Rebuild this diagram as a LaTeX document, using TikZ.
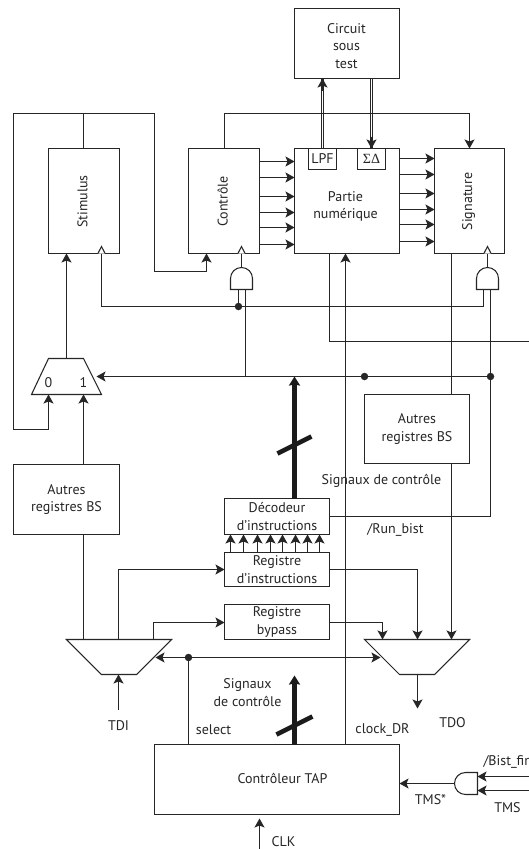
\documentclass[tikz,border=0pt]{standalone}
\usepackage{fontspec}
\setmainfont{PT Sans}
\newfontfamily\grk{Liberation Serif}
\usetikzlibrary{arrows.meta,calc}
\definecolor{ink}{gray}{0.15}
\tikzset{
  x=1pt,y=-1pt,
  wire/.style={draw=ink,line width=1.05pt},
  ar/.style={wire,-{Stealth[length=9pt,width=10pt,inset=2pt]}},
  dar/.style={wire,{Stealth[length=9pt,width=10pt,inset=2pt]}-{Stealth[length=9pt,width=10pt,inset=2pt]}},
  bus/.style={draw=ink!70!black,line width=5.5pt,-{Stealth[length=9pt,width=11pt,inset=1pt]}},
  slash/.style={draw=ink!70!black,line width=4.5pt},
  boxn/.style={draw=ink,line width=1.05pt,fill=white,inner sep=0pt,outer sep=0pt,align=center,text=ink},
  txt/.style={inner sep=0pt,outer sep=0pt,align=center,text=ink},
  ghost/.style={inner sep=0pt,outer sep=0pt},
  dotn/.style={circle,fill=ink,inner sep=0pt,minimum size=7.5pt,outer sep=0pt},
}
\newcommand{\bx}[6]{%
  \pgfmathsetmacro\bw{#4-#2}\pgfmathsetmacro\bh{#5-#3}%
  \node[boxn,minimum width=\bw pt,minimum height=\bh pt] (#1) at ({(#2+#4)/2},{(#3+#5)/2}) {#6};}
\newcommand{\clk}[1]{% open clock triangle whose base centre is coordinate #1
  \draw[wire,fill=white,line join=miter] ($(#1)+(-3.6,0)$) -- ($(#1)+(0,-7)$) -- ($(#1)+(3.6,0)$);}
\begin{document}
\begin{tikzpicture}[font=\fontsize{14}{17.6}\selectfont]
\useasboundingbox[fill=white] (-0.5,-0.5) rectangle (528.5,848.5);

% free ends
\coordinate (eR) at (529,341);
\coordinate (eBist) at (529,776);
\coordinate (eTms) at (529,790);
\coordinate (eClk) at (259,849);
\coordinate (eTdi) at (118,709);
\coordinate (eTdo) at (417,708);
\coordinate (busTip) at (294,376);
\coordinate (busTipB) at (294,675);

% main boxes
\bx{cut}{294}{8}{399}{78}{}
\bx{stim}{48}{148}{119}{253}{}
\bx{ctrl}{188}{148}{259}{253}{}
\bx{dig}{294}{148}{399}{253}{}
\bx{sig}{434}{148}{504}{253}{}
\bx{lpf}{308}{148}{336}{169}{LPF}
\bx{sd}{357}{148}{385}{169}{\grk ΣΔ}
\bx{abs}{13}{464}{119}{534}{Autres\\registres BS}
\bx{abt}{364}{394}{469}{463}{Autres\\registres BS}
\bx{dec}{224}{498}{329}{534}{Décodeur\\d'instructions}
\bx{ins}{224}{552}{329}{586}{Registre\\d'instructions}
\bx{byp}{224}{604}{329}{639}{Registre\\bypass}
\bx{tap}{154}{744}{399}{814}{}

% muxes (invisible frames, drawn below)
\node[ghost,minimum width=70pt,minimum height=36pt] (mux) at (66,376) {};
\node[ghost,minimum width=105pt,minimum height=35pt] (dma) at (118.5,656.5) {};
\node[ghost,minimum width=105pt,minimum height=35pt] (dmb) at (416.5,656.5) {};
\draw[wire,line join=miter] (mux.south west) -- ($(mux.north west)+(17,0)$) -- ($(mux.north east)+(-18,0)$) -- (mux.south east) -- cycle;
\draw[wire,line join=miter] (dma.north west) -- ($(dma.south west)+(35,0)$) -- ($(dma.south east)+(-35,0)$) -- (dma.north east) -- cycle;
\draw[wire,line join=miter] (dmb.north west) -- ($(dmb.south west)+(35,0)$) -- ($(dmb.south east)+(-35,0)$) -- (dmb.north east) -- cycle;

% AND gates
\node[ghost,minimum width=22pt,minimum height=22pt] (ga) at (241,278) {};
\node[ghost,minimum width=22pt,minimum height=22pt] (gb) at (487,278) {};
\node[ghost,minimum width=24pt,minimum height=22pt] (gc) at (465,783) {};
\draw[wire,line join=miter] (ga.south west) -- (ga.west) arc[start angle=180,end angle=0,radius=11pt] -- (ga.south east) -- cycle;
\draw[wire,line join=miter] (gb.south west) -- (gb.west) arc[start angle=180,end angle=0,radius=11pt] -- (gb.south east) -- cycle;
\draw[wire,line join=miter] (gc.north east) -- (gc.north) arc[start angle=90,end angle=270,radius=11pt] -- (gc.south east) -- cycle;

% top loops
\coordinate (lp) at (83,113);
\draw[wire] (stim.north -| lp) -- (lp);
\draw[ar] (lp) -- (154,113) -- (154,271) -- (206,271) -- (206,253);
\draw[ar] (lp) -- (13,113) -- (13,429) -- (48,429) -- (48,394);
\draw[ar] (224,148) -- (224,113) -- (469,113) -- (469,148);

% double lines to the circuit
\draw[wire] ([xshift=-1.2pt]lpf.north) -- ([xshift=-1.2pt]lpf.north |- cut.south);
\draw[wire] ([xshift=1.2pt]lpf.north) -- ([xshift=1.2pt]lpf.north |- cut.south);
\draw[ar] (lpf.north |- 0,90) -- (lpf.north |- cut.south);
\draw[wire] ([xshift=-1.2pt]sd.north) -- ([xshift=-1.2pt]sd.north |- cut.south);
\draw[wire] ([xshift=1.2pt]sd.north) -- ([xshift=1.2pt]sd.north |- cut.south);
\draw[ar] (sd.north |- 0,136) -- (sd.north);

% parallel arrows
\foreach \y in {161,177,196,212,227,244} \draw[ar] (ctrl.east |- 0,\y) -- (dig.west |- 0,\y);
\foreach \y in {158,174,193,209,224,241} \draw[ar] (dig.east |- 0,\y) -- (sig.west |- 0,\y);
\foreach \x in {230,243,257,270,282,295,307,319} \draw[ar] (\x,0 |- ins.north) -- (\x,0 |- dec.south);

% clock network
\draw[wire] (101,253) -- (101,306) -- (483,306) -- (483,289);
\coordinate (ca) at (101,253); \coordinate (cb) at (241,253); \coordinate (cc) at (487,253);
\draw[wire] (ga.north) -- (cb);
\draw[wire] (gb.north) -- (cc);
\clk{ca}\clk{cb}\clk{cc}
\node[dotn] (d1) at (238,306) {};
\draw[wire] (d1) -- (238,289);
\draw[wire] (245,289) -- (245,376);
\draw[wire] (490,289) -- (490,516) -- (dec.east |- 0,516);
\draw[draw=ink,line width=1.9pt] (490,492) -- (490,498);
\draw[ar] (490,376) -- (96,376);
\node[dotn] (d2) at (364,376) {};
\node[dotn] (d3) at (490,376) {};

% mux connections
\draw[ar] (66,358) -- (66,253);
\draw[ar] (abs.north -| 83,0) -- (83,394);
\draw[wire] (abs.south -| 83,0) -- (83,639);
\draw[ar] (118,639) -- (118,569) -- (ins.west |- 0,569);
\draw[ar] (153,639) -- (153,622) -- (byp.west |- 0,622);
\draw[ar] (eTdi) -- (118,674);
\draw[ar] (417,674) -- (eTdo);
\draw[ar] (byp.east |- 0,622) -- (382,622) -- (382,639);
\draw[ar] (ins.east |- 0,569) -- (417,569) -- (417,639);
\draw[ar] (abt.south -| 451,0) -- (451,639);
\draw[wire] (sig.south -| 451,0) -- (451,394);

% digital part lines
\draw[wire] (dig.south -| 329,0) -- (329,341) -- (eR);
\draw[ar] (tap.north -| 345,0) -- (345,253);

% select
\draw[dar] (155,657) -- (380,657);
\node[dotn] (d4) at (188,657) {};
\draw[wire] (d4) -- (tap.north -| d4);

% buses
\draw[bus] (dec.north -| busTip) -- (busTip);
\draw[slash] (277,453) -- (311,436);
\draw[bus] (tap.north -| busTipB) -- (busTipB);
\draw[slash] (276,734) -- (312,716);

% TAP inputs
\draw[ar] (454,783) -- (tap.east |- 0,783);
\draw[ar] (eBist) -- (477,776);
\draw[ar] (eTms) -- (477,790);
\draw[ar] (eClk) -- (259,818);

% labels
\node[txt] (l0) at (346,45.5) {Circuit\\sous\\test};
\node[txt,rotate=90] (l1) at (82,201) {Stimulus};
\node[txt,rotate=90] (l2) at (222,201) {Contrôle};
\node[txt,rotate=90] (l3) at (468,201) {Signature};
\node[txt] (l4) at (345,206) {Partie\\numérique};
\node[txt] (l5) at (48,382) {0};
\node[txt] (l6) at (83,382) {1};
\node[txt] (l7) at (381,480) {Signaux de contrôle};
\node[txt] (l8) at (395,529) {/Run\_bist};
\node[txt] (l9) at (247,692) {Signaux\\de contrôle};
\node[txt] (l10) at (213,729) {select};
\node[txt] (l11) at (382,729) {clock\_DR};
\node[txt] (l12) at (118,725) {TDI};
\node[txt] (l13) at (452,722) {TDO};
\node[txt] (l14) at (282,778) {Contrôleur TAP};
\node[txt] (l15) at (430,799) {TMS*};
\node[txt] (l16) at (507,807) {TMS};
\node[txt] (l17) at (283,841) {CLK};
\node[txt,anchor=west] (l18) at (483,761) {/Bist\_fin};
\end{tikzpicture}
\end{document}
